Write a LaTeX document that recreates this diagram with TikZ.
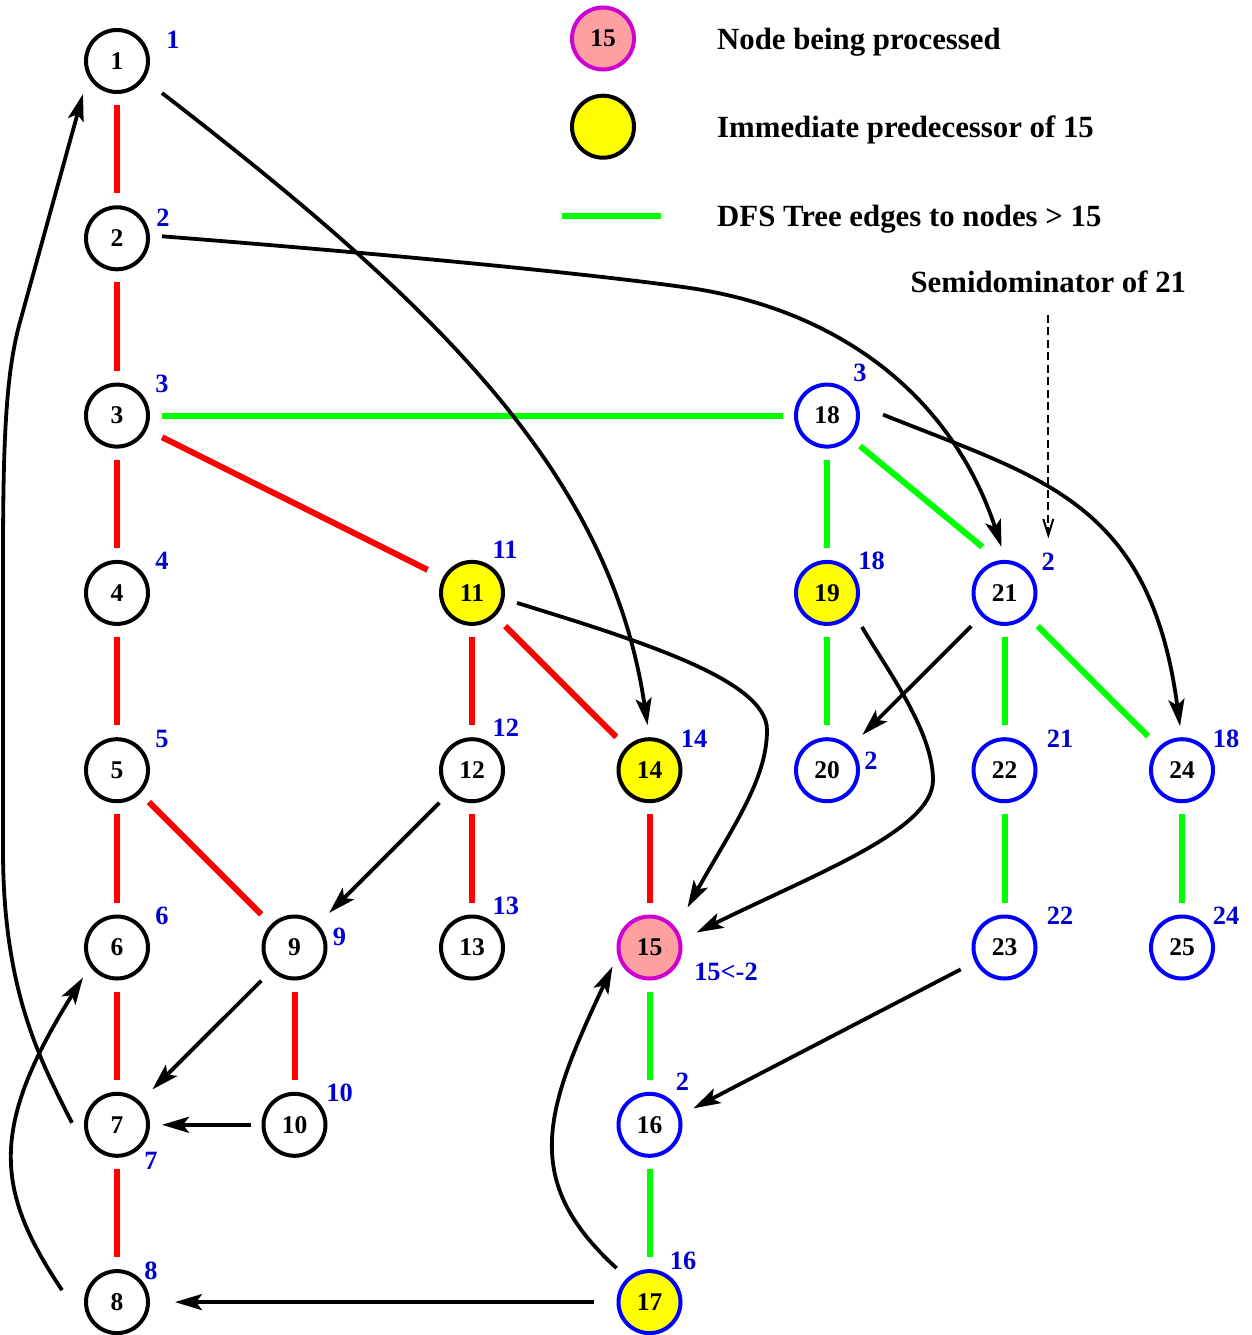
\documentclass[tikz,border=0pt]{standalone}
\usepackage{fontspec}
\setmainfont{Liberation Serif}
\usetikzlibrary{arrows.meta,calc}
\definecolor{lblue}{RGB}{0,0,208}
\definecolor{fgreen}{RGB}{0,255,0}
\definecolor{fred}{RGB}{255,0,0}
\definecolor{pinkf}{RGB}{255,160,160}
\definecolor{magb}{RGB}{208,0,208}
\definecolor{yel}{RGB}{255,255,0}
\definecolor{nblue}{RGB}{0,0,255}
\begin{document}
\begin{tikzpicture}[x=1pt,y=-1pt]
\tikzset{
  vtx/.style={circle, draw=black, line width=4pt, minimum size=62pt, inner sep=0pt, outer sep=0pt, font=\fontsize{25.5}{30}\selectfont\bfseries},
  bv/.style={vtx, draw=nblue},
  yv/.style={vtx, fill=yel},
  byv/.style={vtx, draw=nblue, fill=yel},
  pv/.style={vtx, draw=magb, fill=pinkf},
  lab/.style={text=lblue, font=\fontsize{26.4}{30}\selectfont\bfseries, inner sep=0pt},
  leg/.style={font=\fontsize{30.8}{36}\selectfont\bfseries, anchor=base west, inner sep=0pt},
  redge/.style={fred, line width=6pt, shorten <=13pt, shorten >=14pt},
  gedge/.style={fgreen, line width=6pt, shorten <=13pt, shorten >=14pt},
  arr/.style={line width=3.8pt, -{Stealth[length=27pt,width=16pt,inset=6pt]}},
  dasharr/.style={line width=2pt, dash pattern=on 8pt off 4.5pt, -{Straight Barb[length=16pt,width=10pt]}}
}
\useasboundingbox (0,0) rectangle (1252,1335);

% main nodes
\node[vtx] (n1) at (117,61) {1};
\node[vtx] (n2) at (117,238.3) {2};
\node[vtx] (n3) at (117,415.6) {3};
\node[vtx] (n4) at (117,592.9) {4};
\node[vtx] (n5) at (117,770.2) {5};
\node[vtx] (n6) at (117,947.5) {6};
\node[vtx] (n7) at (117,1124.8) {7};
\node[vtx] (n8) at (117,1302.1) {8};
\node[vtx] (n9) at (294.5,947.5) {9};
\node[vtx] (n10) at (294.5,1124.8) {10};
\node[yv] (n11) at (472,592.9) {11};
\node[vtx] (n12) at (472,770.2) {12};
\node[vtx] (n13) at (472,947.5) {13};
\node[yv] (n14) at (649.5,770.2) {14};
\node[pv] (n15) at (649.5,947.5) {15};
\node[bv] (n16) at (649.5,1124.8) {16};
\node[byv] (n17) at (649.5,1302.1) {17};
\node[bv] (n18) at (827,415.6) {18};
\node[byv] (n19) at (827,592.9) {19};
\node[bv] (n20) at (827,770.2) {20};
\node[bv] (n21) at (1004.5,592.9) {21};
\node[bv] (n22) at (1004.5,770.2) {22};
\node[bv] (n23) at (1004.5,947.5) {23};
\node[bv] (n24) at (1182,770.2) {24};
\node[bv] (n25) at (1182,947.5) {25};

% labels
\node[lab] (l1) at (173,40) {1};
\node[lab] (l2) at (163,218) {2};
\node[lab] (l3) at (162,384) {3};
\node[lab] (l4) at (162,561) {4};
\node[lab] (l5) at (162,739) {5};
\node[lab] (l6) at (162,916) {6};
\node[lab] (l7) at (151,1161) {7};
\node[lab] (l8) at (151,1271) {8};
\node[lab] (l9) at (339.5,937) {9};
\node[lab] (l10) at (339.5,1093) {10};
\node[lab] (l11) at (505,550) {11};
\node[lab] (l12) at (505.8,728) {12};
\node[lab] (l13) at (505.8,905.5) {13};
\node[lab] (l14) at (694,739) {14};
\node[lab] (l15) at (726,971.5) {15<-2};
\node[lab] (l16) at (682.5,1082) {2};
\node[lab] (l17) at (683,1260.5) {16};
\node[lab] (l18) at (860,373) {3};
\node[lab] (l19) at (871.5,561) {18};
\node[lab] (l20) at (871,760.7) {2};
\node[lab] (l21) at (1048.3,561.3) {2};
\node[lab] (l22) at (1060,739) {21};
\node[lab] (l23) at (1060,916) {22};
\node[lab] (l24) at (1226,739) {18};
\node[lab] (l25) at (1226,916) {24};

% legend
\node[pv] (k1) at (603,38.5) {15};
\node[yv] (k2) at (603,126.7) {};
\coordinate (kA) at (562,215.5);
\coordinate (kB) at (661,215.5);
\draw[fgreen, line width=6pt] (kA) -- (kB);
\node[leg] (t1) at (717,49.3) {Node being processed};
\node[leg] (t2) at (717,137.7) {Immediate predecessor of 15};
\node[leg] (t3) at (717,226.7) {DFS Tree edges to nodes > 15};
\node[font=\fontsize{30.8}{36}\selectfont\bfseries, anchor=base, inner sep=0pt] (semi) at (1048.3,292.3) {Semidominator of 21};

% red tree edges
\draw[redge] (n1) -- (n2);
\draw[redge] (n2) -- (n3);
\draw[redge] (n3) -- (n4);
\draw[redge] (n4) -- (n5);
\draw[redge] (n5) -- (n6);
\draw[redge] (n6) -- (n7);
\draw[redge] (n7) -- (n8);
\draw[redge, shorten <=19pt, shorten >=19pt] (n3.-25) -- (n11.152);
\draw[redge] (n11) -- (n12);
\draw[redge, shorten <=16pt, shorten >=16pt] (n11) -- (n14);
\draw[redge] (n12) -- (n13);
\draw[redge] (n14) -- (n15);
\draw[redge, shorten <=14pt, shorten >=16pt] (n5) -- (n9);
\draw[redge] (n9) -- (n10);

% green tree edges
\draw[gedge, shorten <=14pt, shorten >=13pt] (n3) -- (n18);
\draw[gedge] (n18) -- (n19);
\draw[gedge, shorten <=14pt, shorten >=24pt] (n18.-44.5) -- (n21.97);
\draw[gedge] (n19) -- (n20);
\draw[gedge] (n21) -- (n22);
\draw[gedge, shorten <=16pt, shorten >=17pt] (n21) -- (n24);
\draw[gedge] (n22) -- (n23);
\draw[gedge] (n24) -- (n25);
\draw[gedge] (n15) -- (n16);
\draw[gedge] (n16) -- (n17);

% black arrows
\draw[arr] ($(n1)+(45,32)$) .. controls (430,300) and (610,470) .. ($(n14)+(-2,-45)$);
\draw[arr] ($(n2)+(45,-2)$) .. controls (400,255) and (600,275) .. (690,288)
   .. controls (850,312) and (955,405) .. ($(n21)+(-3,-46)$);
\draw[arr] ($(n18)+(56,-1)$) .. controls (1040,478) and (1150,500) .. ($(n24)+(-2,-44)$);
\draw[arr] ($(n11)+(45,10)$) .. controls (640,641) and (767,680) .. (767,730)
   .. controls (767,780) and (732,828) .. ($(n15)+(38,-40)$);
\draw[arr] ($(n19)+(35,34)$) .. controls (885,667) and (933,730) .. (933,780)
   .. controls (933,830) and (817,873) .. ($(n15)+(47,-15)$);
\draw[arr, shorten <=16pt, shorten >=19pt] (n21) -- (n20);
\draw[arr, shorten <=15pt, shorten >=18pt] (n12) -- (n9);
\draw[arr, shorten <=16pt, shorten >=19pt] (n9) -- (n7);
\draw[arr, shorten <=13pt, shorten >=14pt] (n10) -- (n7);
\draw[arr, shorten <=25pt, shorten >=27pt] (n17) -- (n8);
\draw[arr, shorten <=18pt, shorten >=16pt] (n23.-154) -- (n16.17);
\draw[arr] ($(n7)+(-45,-2)$) .. controls (40,1060) and (3,990) .. (3,850) -- (3,560)
   .. controls (3,440) and (6,372) .. (20,322) -- ($(n1)+(-34,33)$);
\draw[arr] ($(n8)+(-55,-12)$) .. controls (-5,1190) and (-11,1128) .. ($(n6)+(-34,30)$);
\draw[arr] ($(n17)+(-33,-34)$) .. controls (520,1180) and (545,1110) .. ($(n15)+(-37,19)$);

% semidominator pointer
\draw[dasharr, shorten <=22pt, shorten >=14pt] (semi.south) -- (l21.north);
\end{tikzpicture}
\end{document}
